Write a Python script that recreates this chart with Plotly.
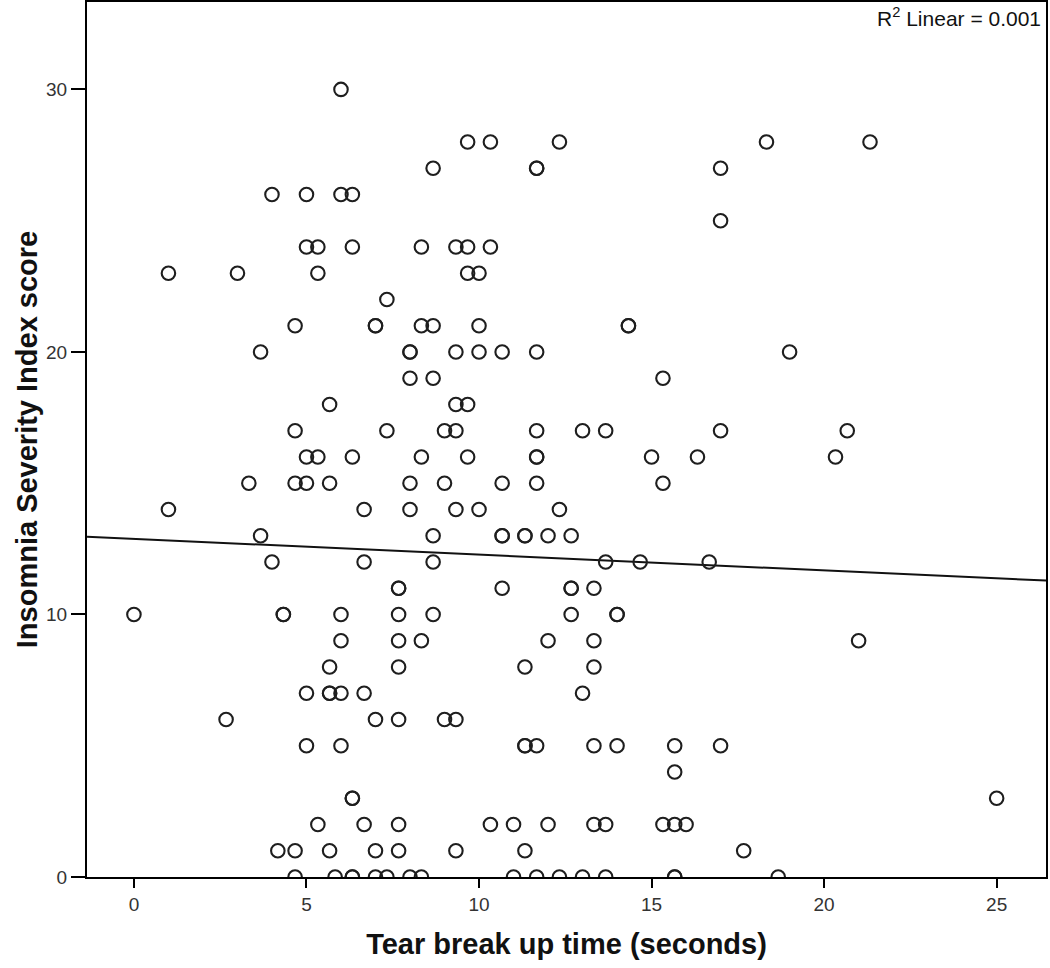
import plotly.graph_objects as go

# Tear break up time (seconds) and Insomnia Severity Index score, grouped by score
rows = {
    0: [4.67, 5.83, 6.33, 6.33, 7.0, 7.33, 8.0, 8.33, 11.0, 11.67, 12.33, 13.0, 13.67, 15.67, 15.67, 18.67],
    1: [4.17, 4.67, 5.67, 7.0, 7.67, 9.33, 11.33, 17.67],
    2: [5.33, 6.67, 7.67, 10.33, 11.0, 12.0, 13.33, 13.67, 15.33, 15.67, 16.0],
    3: [6.33, 6.33, 25.0],
    4: [15.67],
    5: [5.0, 6.0, 11.33, 11.33, 11.67, 13.33, 14.0, 15.67, 17.0],
    6: [2.67, 7.0, 7.67, 9.0, 9.33],
    7: [5.0, 5.67, 5.67, 6.0, 6.67, 13.0],
    8: [5.67, 7.67, 11.33, 13.33],
    9: [6.0, 7.67, 8.33, 12.0, 13.33, 21.0],
    10: [0.0, 4.33, 4.33, 6.0, 7.67, 8.67, 12.67, 14.0, 14.0],
    11: [7.67, 7.67, 10.67, 12.67, 12.67, 13.33],
    12: [4.0, 6.67, 8.67, 13.67, 14.67, 16.67],
    13: [3.67, 8.67, 10.67, 10.67, 11.33, 11.33, 12.0, 12.67],
    14: [1.0, 6.67, 8.0, 9.33, 10.0, 12.33],
    15: [3.33, 4.67, 5.0, 5.67, 8.0, 9.0, 10.67, 11.67, 15.33],
    16: [5.0, 5.33, 6.33, 8.33, 9.67, 11.67, 11.67, 15.0, 16.33, 20.33],
    17: [4.67, 7.33, 9.0, 9.33, 11.67, 13.0, 13.67, 17.0, 20.67],
    18: [5.67, 9.33, 9.67],
    19: [8.0, 8.67, 15.33],
    20: [3.67, 8.0, 8.0, 9.33, 10.0, 10.67, 11.67, 19.0],
    21: [4.67, 7.0, 7.0, 8.33, 8.67, 10.0, 14.33, 14.33],
    22: [7.33],
    23: [1.0, 3.0, 5.33, 9.67, 10.0],
    24: [5.0, 5.33, 6.33, 8.33, 9.33, 9.67, 10.33],
    25: [17.0],
    26: [4.0, 5.0, 6.0, 6.33],
    27: [8.67, 11.67, 11.67, 17.0],
    28: [9.67, 10.33, 12.33, 18.33, 21.33],
    30: [6.0],
}
tbut = [x for score, xs in rows.items() for x in xs]
isi = [score for score, xs in rows.items() for _ in xs]

# Linear fit
fit_intercept = 12.88
fit_slope = -0.06
r2_text = "R<sup>2</sup> Linear = 0.001"

x_range = [-1.36, 26.43]
y_range = [0, 33.33]
x_ticks = [0, 5, 10, 15, 20, 25]
y_ticks = [0, 10, 20, 30]

fig = go.Figure()
fig.add_trace(go.Scatter(
    x=x_range, y=[fit_intercept + fit_slope * v for v in x_range],
    mode="lines", line=dict(color="#111111", width=2), showlegend=False,
    hoverinfo="skip",
))
fig.add_trace(go.Scatter(
    x=tbut, y=isi, mode="markers",
    marker=dict(symbol="circle-open", size=13.5, color="#1e1e1e",
                line=dict(width=2.1, color="#1e1e1e")),
    showlegend=False, cliponaxis=True,
))

fig.add_annotation(
    text=r2_text, xref="paper", yref="paper", x=0.997, y=1.0,
    xanchor="right", yanchor="top", showarrow=False,
    font=dict(family="Liberation Sans, Arial", size=21, color="#111111"),
)

fig.update_layout(
    width=1050, height=968,
    margin=dict(l=87, r=4, t=2, b=91, autoexpand=False),
    paper_bgcolor="white", plot_bgcolor="white",
    font=dict(family="Liberation Sans, Arial", color="#222222"),
)
fig.update_xaxes(
    range=x_range, tickvals=x_ticks, ticktext=[str(v) for v in x_ticks],
    showgrid=False, zeroline=False, showline=True, linecolor="black", linewidth=2,
    mirror=True, ticks="outside", ticklen=9, tickwidth=2, tickcolor="black",
    tickfont=dict(size=19, color="#333333"), automargin=False,
    title=dict(text="<b>Tear break up time (seconds)</b>", standoff=20,
               font=dict(size=29, color="#111111")),
)
fig.update_yaxes(
    range=y_range, tickvals=y_ticks, ticktext=[str(v) for v in y_ticks],
    showgrid=False, zeroline=False, showline=True, linecolor="black", linewidth=2,
    mirror=True, ticks="outside", ticklen=14, tickwidth=2, tickcolor="black",
    tickfont=dict(size=19, color="#333333"), automargin=False,
    title=dict(text="<b>Insomnia Severity Index score</b>", standoff=0,
               font=dict(size=29, color="#111111")),
)

fig.write_html("out.html", config={"displayModeBar": False},
               post_script="document.body.style.margin='0';")
